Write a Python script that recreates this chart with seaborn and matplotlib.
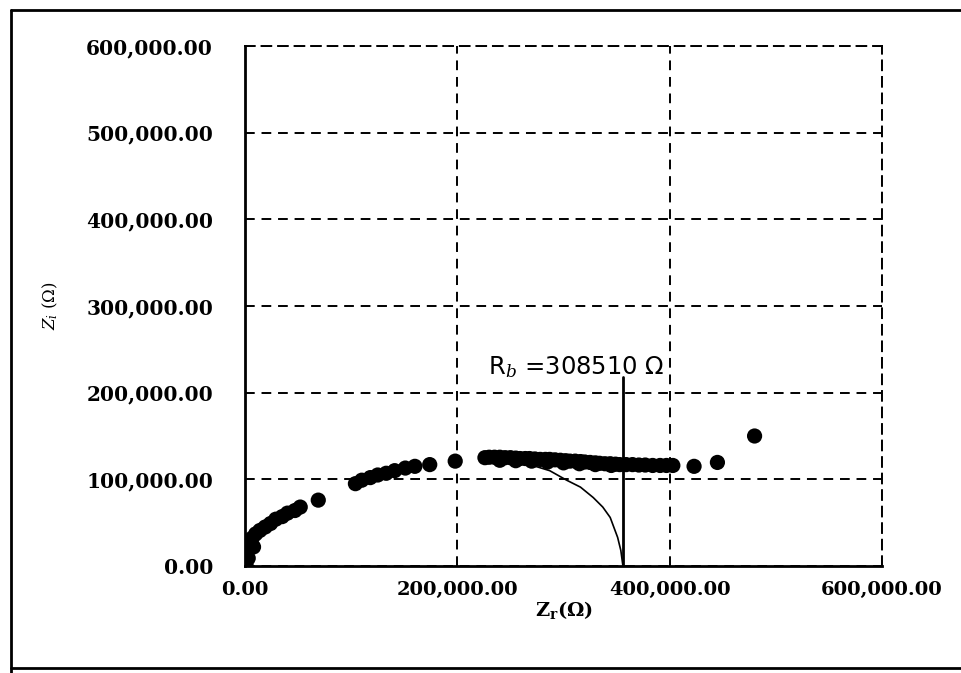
import matplotlib
matplotlib.use("Agg")
import matplotlib.pyplot as plt
import matplotlib.lines as mlines
import seaborn as sns
import pandas as pd

# Data (Z_r, Z_i in ohm)
z_real = [
    1000, 500, 1000, 2000, 3000, 4000, 6600, 8000, 10000, 14000, 19000, 24000, 29000,
    35000, 40000, 47000, 52000, 69000,
    104000, 110000, 118000, 125000, 133000, 141000, 151000, 160000, 174000, 198000,
    226000, 230000, 235000, 240000, 245000, 250000, 255000, 259000, 264000, 268000,
    273000, 278000, 283000, 287000, 292000, 297000, 302000, 306000, 311000, 316000,
    320000, 325000, 330000, 334000, 339000, 344000, 349000, 353000, 359000, 365000,
    371000, 377000, 384000, 391000, 397000, 403000,
    240000, 255000, 270000, 285000, 300000, 315000, 330000, 345000,
    423000, 445000, 480000,
]
z_imag = [
    1000, 6900, 15000, 21000, 9000, 26000, 32000, 22000, 37000, 41000, 45000, 49000, 54000,
    57000, 61000, 64000, 68000, 76000,
    95000, 99000, 102000, 105000, 107000, 110000, 113000, 115000, 117000, 121000,
    125000, 125500, 125500, 125500, 125000, 125000, 124500, 124000, 124000, 124000,
    123500, 123000, 123000, 123000, 122500, 122000, 121500, 121000, 121000, 120500,
    120000, 119500, 119000, 118500, 118000, 118000, 117500, 117000, 117000, 117000,
    116500, 116500, 116000, 116000, 116000, 116000,
    122000, 121500, 121000, 120000, 119000, 118000, 117000, 116000,
    115000, 119500, 150000,
]

# fitted semicircle end
arc_real = [271000, 287000, 303000, 316000, 328000, 337000, 344000, 351000, 354000, 356000]
arc_imag = [116000, 110000, 99000, 91000, 79000, 68000, 56000, 33000, 18000, 0]

rb_x = 356000
rb_top = 218000
rb_label = "R$_b$ =308510 Ω"

x_ticks = [0, 200000, 400000, 600000]
y_ticks = [0, 100000, 200000, 300000, 400000, 500000, 600000]

df = pd.DataFrame({"zr": z_real, "zi": z_imag})
df_arc = pd.DataFrame({"zr": arc_real, "zi": arc_imag})

sns.set_theme(style="white")
plt.rcParams["mathtext.fontset"] = "dejavuserif"

fig = plt.figure(figsize=(9.62, 6.73), dpi=100)
ax = fig.add_axes([0.2547, 0.159, 0.9168 - 0.2547, 0.9316 - 0.159])

sns.scatterplot(data=df, x="zr", y="zi", color="black", s=120, edgecolor="none", ax=ax, zorder=3)
sns.lineplot(data=df_arc, x="zr", y="zi", sort=False, estimator=None, color="black", lw=1.2, ax=ax, zorder=4)
ax.plot([rb_x, rb_x], [0, rb_top], color="black", lw=2, zorder=5)
ax.text(229000, 222000, rb_label, fontsize=17.5, family="DejaVu Sans", color="black", va="baseline")

ax.set_xlim(0, 600000)
ax.set_ylim(0, 600000)
ax.set_xticks(x_ticks)
ax.set_yticks(y_ticks)
ax.set_xticklabels([f"{v:,.2f}" for v in x_ticks], family="DejaVu Serif", fontweight="bold", fontsize=14)
ax.set_yticklabels([f"{v:,.2f}" for v in y_ticks], family="DejaVu Serif", fontweight="bold", fontsize=14.5)
ax.tick_params(axis="both", direction="out", length=5, width=1, color="black", labelcolor="black")
ax.tick_params(axis="y", pad=18)
ax.tick_params(axis="x", pad=6)

ax.grid(True, color="black", linestyle=(0, (5, 3.5)), lw=1.4)
ax.set_axisbelow(True)
for side in ["left", "bottom"]:
    ax.spines[side].set_color("black")
    ax.spines[side].set_linewidth(2)
for side in ["top", "right"]:
    ax.spines[side].set_color("black")
    ax.spines[side].set_linewidth(1.4)
    ax.spines[side].set_linestyle((0, (5, 3.5)))

ax.set_xlabel(r"$\mathbf{Z_r(\Omega)}$", fontsize=14, color="black", labelpad=0)
ax.set_ylabel(r"$Z_i\ (\Omega)$", fontsize=12, color="black", labelpad=0)
ax.yaxis.set_label_coords(-0.29, 0.5)

# outer frame of the scanned figure
fig.add_artist(mlines.Line2D([0.011, 0.011], [0.0, 0.985], color="black", lw=2))
fig.add_artist(mlines.Line2D([0.011, 1.0], [0.985, 0.985], color="black", lw=2))
fig.add_artist(mlines.Line2D([0.011, 1.0], [0.008, 0.008], color="black", lw=2))

plt.savefig("out.png", dpi=100)
plt.close()
print("Figura salva: out.png")
